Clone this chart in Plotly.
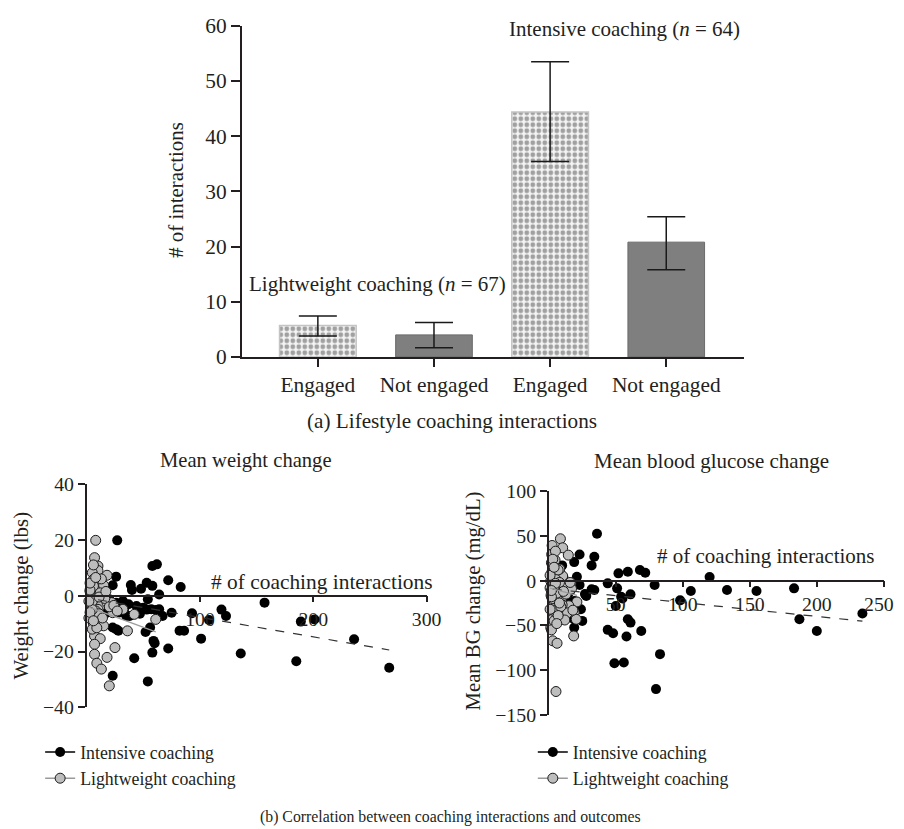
import plotly.graph_objects as go

FONT = "Liberation Serif"
W, H = 904, 829
# measured page->picture mapping of the viewer: pic = S * set + O
SX, OXP = 0.9825, 7.7
SY, OYP = 0.9735, 19.2

# ---------------- (a) bar chart data ----------------
bar_labels = ["Engaged", "Not engaged", "Engaged", "Not engaged"]
bar_pos = [0, 1, 2, 3]
bar_means = [5.7, 4.0, 44.4, 20.8]
bar_upper = [7.4, 6.25, 53.5, 25.4]
bar_lower = [3.8, 1.66, 35.4, 15.8]
engaged_idx = [0, 2]
not_engaged_idx = [1, 3]

# ---------------- (b) scatter data ----------------
w_ticks = [100, 200, 300]
w_yticks = [-40, -20, 0, 20, 40]
bg_ticks = [50, 100, 150, 200, 250]
bg_ticktext = ["50", "100", "150", "200", "250\u00a0\u00a0"]

int_w = [(27,19.8),(58,10.6),(62,11.2),(26,6.8),(23,3.7),(39,3.8),(40,2),(48,2.5),(53,4.6),(58,3.5),
         (64,0.4),(72,5.5),(83,3.1),(54,-1.3),(26,-2.5),(31,-3.7),(37,-3.1),(44,-3.7),(50,-4.3),(57,-4.9),
         (61,-5.1),(64,-4.9),(67,-7.3),(75,-6.1),(93,-6.3),(108,-8.7),(119,-5),(123,-7.3),(157,-2.5),(189,-9.3),
         (201,-8.5),(82,-12.6),(86,-12.6),(101,-15.4),(72,-18.9),(52,-13),(56,-11.4),(59,-16.2),(60,-17),(58,-20.4),
         (136,-20.7),(185,-23.5),(236,-15.6),(267,-25.8),(42,-22.4),(23,-28.7),(54,-30.7),(23,-11.4),(26,-12),(28,-12.6),
         (35,-7.3),(18,-6.1),(20,-1.3),(12,0),(15,-3.7),(29,-6),(45,-4.3),(53,-5),(10,-5.5),(14,-2),
         (33,-5),(47,-6.5),(38,-7.3),(32,-1.9)]
lw_w = [(8,19.8),(7,13.6),(10,10.6),(7,9.4),(10,9),(5,8.2),(18,7.3),(6,5.8),(12,5.2),(9,2.9),
        (15,3.7),(7,0.5),(14,0.5),(10,-1.3),(7,-2.5),(9,-3.1),(12,-3.7),(18,-2.5),(22,-2.5),(23,-6.1),
        (32,-4.9),(42,-6.7),(61,-8.5),(7,-7.3),(9,-9),(6,-10.2),(15,-10.8),(36,-12.6),(7,-14.4),(12,-15.4),
        (7,-17.4),(25,-18.6),(7,-21),(18,-22.1),(9,-24.2),(13,-26.3),(20,-32.3),(4,-4.3),(5,-0.7),(10,-4.9),
        (3,1.5),(4,-1.8),(6,3.5),(8,-5.5),(11,-6.5),(5,-12),(3,2),(13,6),(16,-1),(2,-8),
        (6,11),(4,-3),(9,-11.5),(3,4.5),(5,-2),(12,1),(20,-4),(24,-3.5),(8,6.5),(5,-5),
        (14,-8),(3,-6),(11,-0.5),(6,-9),(2,-2),(17,1.5),(27,-5.5)]

int_bg = [(36,52.5),(34,26.8),(32,17.1),(23,29.4),(19,20.8),(10,17.1),(5,9.7),(52,8.2),(59,10),(68,11.9),
          (72,8.9),(120,4.1),(79,-4.8),(44,-3),(51,-8.6),(54,-17.9),(61,-15.3),(55,-20),(32,-9.7),(34,-10.4),
          (28,-17.1),(15,-13.4),(23,-4.8),(21,4.5),(14,-22.7),(19,-22.7),(24,-32),(18,-42.4),(19,-52.5),(25,-45),
          (50,-28.3),(59,-43.2),(61,-46.9),(69,-56.2),(44,-55),(48,-58.8),(58,-62.5),(49,-92.3),(56,-91.5),(83,-82.2),
          (80,-121.3),(98,-22),(106,-11.5),(133,-10.4),(155,-11.5),(183,-8.6),(187,-43.2),(200,-56.2),(234,-36.8),(8,-2),
          (12,-19),(3,9),(9,7),(6,12),(16,-11.6),(22,-3.7),(27,-15),(11,3),(4,5)]
lw_bg = [(8.7,46.9),(2.5,39.4),(10.4,36.8),(2.2,29.4),(14.6,28.6),(4.7,23),(2.2,8.9),(10.4,5.2),(3,-1.5),(16.6,-3),
         (6.7,-5.2),(1.7,-16.4),(6.2,-23.4),(6.7,-34),(3,-43),(18.6,-61.8),(3,-67.3),(6.2,-70),(5.4,-124),(19,-35.7),
         (21,-23.8),(8,-11.5),(3.3,16.3),(8.2,13),(1.5,-0.4),(9.4,-21),(20.5,-43.2),(1.5,-52.5),(2,-12),(5,2),
         (12,-30),(7,-38),(4,-26),(1,-8),(13,-15),(3,-33),(9,-40),(6,-19),(15,-28),(2,20),
         (11,-6),(5,33),(17,-9),(4,-45),(8,-2),(2,-55),(7,12),(3,-20),(14,-36),(10,-27),
         (1,6),(6,-14),(12,-44),(4,-7),(9,-29),(2,-18),(18,-33),(5,-3),(3,24),(11,-12),
         (7,-39),(1,-32),(16,-2),(4,15),(8,-25),(6,-48),(2,-11)]

# trend lines: (intercept, slope)
trend_w_int = (-0.76, -0.07)
trend_w_lw = (-3.8, -0.15)
trend_bg_int = (-9.0, -0.155)
trend_bg_lw = (-8.0, -0.4)

INT_NAME = "Intensive coaching"
LW_NAME = "Lightweight coaching"

def fx(px):
    return ((px - OXP) / SX) / W

def fy(py):
    return 1 - ((py - OYP) / SY) / H

def fs(size):
    return round(size / SX, 1)

fig = go.Figure()

def pick(lst, idx):
    return [lst[i] for i in idx]

for idx, style in ((engaged_idx, "pattern"), (not_engaged_idx, "solid")):
    means = pick(bar_means, idx)
    up = [u - m for u, m in zip(pick(bar_upper, idx), means)]
    lo = [m - l for l, m in zip(pick(bar_lower, idx), means)]
    if style == "pattern":
        marker = dict(color="#ffffff",
                      pattern=dict(shape=".", fgcolor="#a0a0a0", bgcolor="#f4f4f4", size=6, solidity=0.5,
                                   fillmode="replace"),
                      line=dict(color="#c4c4c4", width=1.5))
    else:
        marker = dict(color="#7f7f7f", line=dict(color="#6a6a6a", width=1))
    fig.add_trace(go.Bar(x=pick(bar_pos, idx), y=means, width=0.66, marker=marker,
                         error_y=dict(type="data", symmetric=False, array=up, arrayminus=lo,
                                      color="#1a1a1a", thickness=1.5, width=19),
                         xaxis="x", yaxis="y", showlegend=False))

def sep(points, k):
    out = []
    for p in points:
        out += [p[k], None]
    return out

def add_scatter(points, name, fill, linecolor, xa, ya, legend):
    fig.add_trace(go.Scatter(x=sep(points, 0), y=sep(points, 1), mode="lines+markers", name=name,
                             connectgaps=False, cliponaxis=False,
                             marker=dict(size=10, color=fill,
                                         line=dict(color="#1a1a1a", width=1 if fill != "black" else 0)),
                             line=dict(color=linecolor, width=1.5),
                             xaxis=xa, yaxis=ya, legend=legend, showlegend=True))

def add_trend(points, coef, color, dash, width, xa, ya):
    xs = [min(p[0] for p in points), max(p[0] for p in points)]
    ys = [coef[0] + coef[1] * x for x in xs]
    fig.add_trace(go.Scatter(x=xs, y=ys, mode="lines", line=dict(color=color, dash=dash, width=width),
                             xaxis=xa, yaxis=ya, showlegend=False, cliponaxis=False))

add_scatter(int_w, INT_NAME, "black", "black", "x2", "y2", "legend")
add_scatter(lw_w, LW_NAME, "#bdbdbd", "#9a9a9a", "x2", "y2", "legend")
add_trend(int_w, trend_w_int, "#333333", "dash", 1.2, "x2", "y2")
add_trend(lw_w, trend_w_lw, "#9c9c9c", "solid", 1.2, "x2", "y2")

add_scatter(int_bg, INT_NAME, "black", "black", "x3", "y3", "legend2")
add_scatter(lw_bg, LW_NAME, "#bdbdbd", "#9a9a9a", "x3", "y3", "legend2")
add_trend(int_bg, trend_bg_int, "#333333", "dash", 1.2, "x3", "y3")
add_trend(lw_bg, trend_bg_lw, "#9c9c9c", "solid", 1.2, "x3", "y3")

INK = "#231f20"
axis_common = dict(showline=True, linecolor=INK, linewidth=1.5, showgrid=False, zeroline=False,
                   ticks="outside", tickcolor=INK, tickwidth=1.5)
bar_tickfont = dict(family=FONT, size=fs(21), color=INK)
sc_tickfont = dict(family=FONT, size=fs(19.5), color=INK)

legend_common = dict(xanchor="left", yanchor="top", bgcolor="rgba(0,0,0,0)",
                     font=dict(family=FONT, size=fs(17.5), color=INK), tracegroupgap=0, itemwidth=30)

fig.update_layout(
    width=W, height=H, margin=dict(l=0, r=0, t=0, b=0),
    paper_bgcolor="white", plot_bgcolor="rgba(0,0,0,0)",
    font=dict(family=FONT, size=18, color=INK),
    xaxis=dict(domain=[fx(242.6), fx(747)], range=[-0.655, 3.668], tickvals=bar_pos, ticktext=bar_labels,
               ticklen=8, anchor="y", tickfont=bar_tickfont, **axis_common),
    yaxis=dict(domain=[fy(357), fy(25)], range=[0, 60], dtick=10, ticklen=9, anchor="x",
               tickfont=bar_tickfont, **axis_common),
    xaxis2=dict(domain=[fx(86.7), fx(428.3)], range=[0, 300], tickvals=w_ticks, ticklen=6,
                anchor="free", position=fy(596.3), tickfont=sc_tickfont, **axis_common),
    yaxis2=dict(domain=[fy(708.3), fy(484.3)], range=[-40, 40], tickvals=w_yticks, ticklen=7,
                anchor="x2", tickfont=sc_tickfont, **axis_common),
    xaxis3=dict(domain=[fx(551), fx(887.7)], range=[0, 250], tickvals=bg_ticks, ticktext=bg_ticktext,
                ticklen=6, anchor="free", position=fy(581.3), tickfont=sc_tickfont, **axis_common),
    yaxis3=dict(domain=[fy(715.7), fy(491.7)], range=[-150, 100], dtick=50, ticklen=7,
                anchor="x3", tickfont=sc_tickfont, **axis_common),
    legend=dict(x=fx(40), y=fy(735), **legend_common),
    legend2=dict(x=fx(535), y=fy(735), **legend_common),
)

def ann(text, x, y, size=20, angle=0):
    fig.add_annotation(text=text, x=fx(x), y=fy(y), xref="paper", yref="paper",
                       showarrow=False, textangle=angle, xanchor="center", yanchor="middle",
                       font=dict(family=FONT, size=fs(size), color=INK))

ann("Lightweight coaching (<i>n</i> = 67)", 379, 284, 20.6)
ann("Intensive coaching (<i>n</i> = 64)", 627, 28, 20.6)
ann("# of interactions", 177, 190, 20.5, -90)
ann("(a) Lifestyle coaching interactions", 454, 421, 20.8)
ann("Mean weight change", 247, 461, 20.2)
ann("Mean blood glucose change", 715, 461, 20.6)
ann("Weight change (lbs)", 21, 596, 20.5, -90)
ann("Mean BG change (mg/dL)", 475, 602, 20.3, -90)
ann("# of coaching interactions", 323, 583, 21)
ann("# of coaching interactions", 769, 557, 20.6)
ann("(b) Correlation between coaching interactions and outcomes", 452, 818, 15.5)

fig.write_html("out.html")
